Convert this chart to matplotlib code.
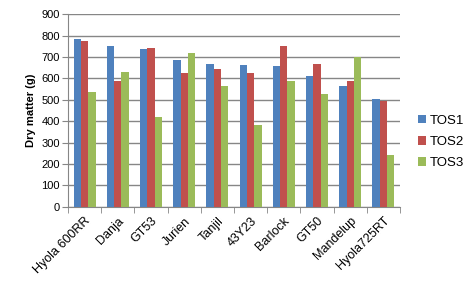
import matplotlib
matplotlib.use("Agg")
import matplotlib.pyplot as plt
import numpy as np

categories = ["Hyola 600RR", "Danja", "GT53", "Jurien", "Tanjil", "43Y23",
              "Barlock", "GT50", "Mandelup", "Hyola725RT"]
tos1 = [785, 752, 738, 686, 668, 663, 658, 612, 565, 504]
tos2 = [775, 588, 743, 626, 644, 626, 752, 668, 588, 495]
tos3 = [537, 630, 420, 719, 565, 382, 588, 527, 700, 242]
series_names = ["TOS1", "TOS2", "TOS3"]
colors = ["#4F81BD", "#C0504D", "#9BBB59"]

plt.rcParams['font.family'] = ['Liberation Sans', 'DejaVu Sans']

fig = plt.figure(figsize=(4.77, 2.87), dpi=100)
ax = fig.add_axes([0.1426, 0.2798, 0.696, 0.6702])

x = np.arange(len(categories))
w = 0.22
for i, (vals, name, c) in enumerate(zip([tos1, tos2, tos3], series_names, colors)):
    ax.bar(x + (i - 1) * w, vals, width=w, color=c, label=name, zorder=3)

ax.set_xlim(-0.5, len(categories) - 0.5)
ax.set_ylim(0, 900)
ax.set_yticks(np.arange(0, 901, 100))
ax.yaxis.grid(True, color="#868686", linewidth=1, zorder=0)
ax.set_axisbelow(True)
for s in ["top", "right"]:
    ax.spines[s].set_visible(False)
ax.spines["left"].set_color("#868686")
ax.spines["bottom"].set_color("#868686")
ax.tick_params(axis="y", labelsize=8, colors="#868686", length=4, labelcolor="black", pad=2)

ax.set_xticks(x)
ax.set_xticklabels(categories, rotation=45, ha="right", rotation_mode="anchor", fontsize=9)
ax.tick_params(axis="x", which="major", length=0, pad=6)
ax.set_xticks(np.arange(-0.5, len(categories) + 0.5, 1), minor=True)
ax.tick_params(axis="x", which="minor", length=4, color="#868686")

ax.set_ylabel("Dry matter (g)", fontsize=8, fontweight="bold", labelpad=4)

fig.legend(loc="center left", bbox_to_anchor=(0.865, 0.505), frameon=False,
           fontsize=9.5, handlelength=0.6, handleheight=0.6, handletextpad=0.3,
           labelspacing=0.7, borderaxespad=0)

fig.savefig("out.png", dpi=100)
